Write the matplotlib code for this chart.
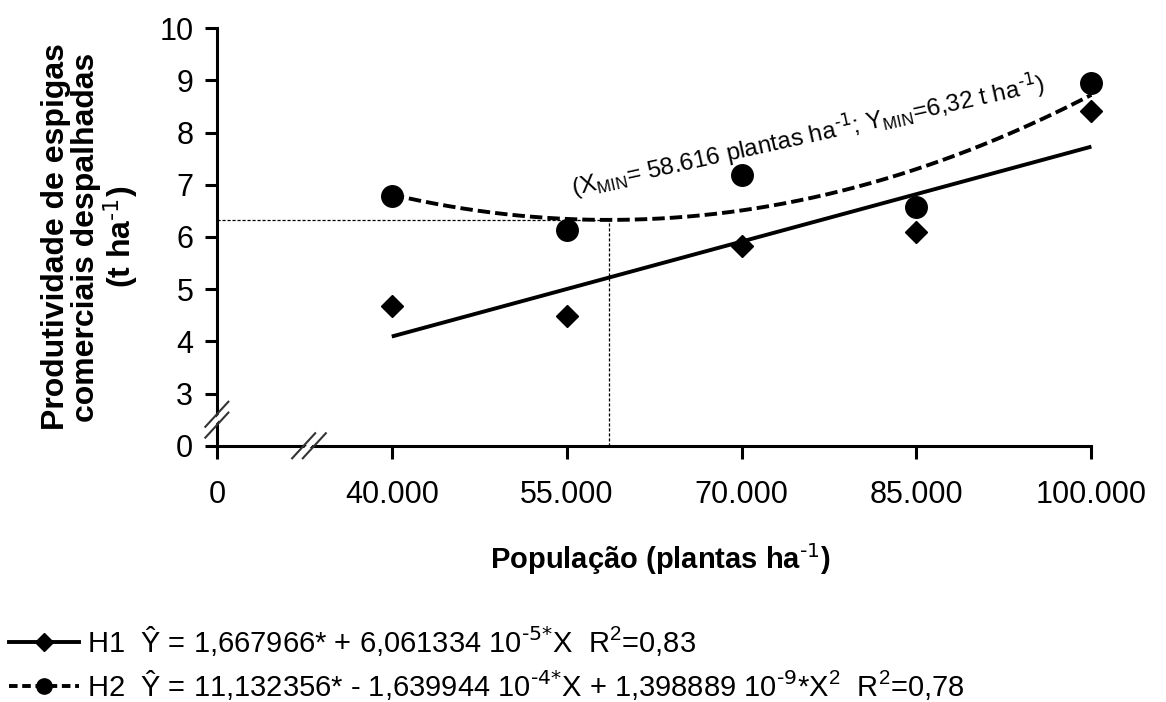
import numpy as np
import matplotlib
matplotlib.use("Agg")
import matplotlib.pyplot as plt
from matplotlib.lines import Line2D

# ---------------- data ----------------
populations = [40000, 55000, 70000, 85000, 100000]
h1_values = [4.68, 4.48, 5.82, 6.10, 8.42]
h2_values = [6.78, 6.14, 7.18, 6.58, 8.95]

# regression coefficients from the legend
h1_coef = [1.667966, 6.061334e-5]
h2_coef = [11.132356, -1.639944e-4, 1.398889e-9]
x_min, y_min = 58616, 6.32

x_tick_pos = [25000, 40000, 55000, 70000, 85000, 100000]
x_tick_labels = ["0", "40.000", "55.000", "70.000", "85.000", "100.000"]
y_tick_pos = [2, 3, 4, 5, 6, 7, 8, 9, 10]
y_tick_labels = ["0", "3", "4", "5", "6", "7", "8", "9", "10"]

FONT = ["Liberation Sans", "DejaVu Sans"]
plt.rcParams["font.family"] = FONT
plt.rcParams["mathtext.default"] = "regular"

fig = plt.figure(figsize=(11.66, 7.02), dpi=100)
ax = fig.add_axes([0.186, 0.365, 0.760, 0.595])

# fitted curves
xf = np.linspace(populations[0], populations[-1], 200)
y1 = h1_coef[0] + h1_coef[1] * xf
y2 = h2_coef[0] + h2_coef[1] * xf + h2_coef[2] * xf ** 2
ax.plot(xf, y1, color="black", lw=2.8, solid_capstyle="butt", zorder=3)
ax.plot(xf, y2, color="black", lw=2.8, dashes=(3.2, 1.3), zorder=3)

# observed points
ax.plot(populations, h1_values, "D", color="black", ms=11, zorder=4)
ax.plot(populations, h2_values, "o", color="black", ms=15.5, zorder=4)

# reference lines for the minimum
ax.plot([25000, x_min], [y_min, y_min], color="black", lw=0.9, dashes=(2.5, 1.5), zorder=2)
ax.plot([x_min, x_min], [2, y_min], color="black", lw=0.9, dashes=(2.5, 1.5), zorder=2)

ax.text(75700, 7.95,
        r"(X$_{MIN}$= 58.616 plantas ha$^{\text{-1}}$; Y$_{MIN}$=6,32 t ha$^{\text{-1}}$)",
        rotation=12.5, ha="center", va="center", fontsize=17.5, rotation_mode="anchor")

# axes styling
ax.set_xlim(25000, 101000)
ax.set_ylim(2, 10)
for s in ["top", "right"]:
    ax.spines[s].set_visible(False)
for s in ["left", "bottom"]:
    ax.spines[s].set_linewidth(2.2)
ax.spines["bottom"].set_bounds(25000, 100000)
ax.set_xticks(x_tick_pos)
ax.set_xticklabels(x_tick_labels)
ax.set_yticks(y_tick_pos)
ax.set_yticklabels(y_tick_labels)
ax.tick_params(axis="both", direction="out", length=9, width=2.2, labelsize=22)
ax.tick_params(axis="x", pad=16)
ax.tick_params(axis="y", pad=8)

ax.set_xlabel(r"População (plantas ha$^{\text{-1}}$)", fontsize=21, fontweight="bold", labelpad=22)
ax.set_ylabel("Produtividade de espigas\ncomerciais despalhadas\n" + r"(t ha$^{\text{-1}}$)",
              fontsize=23, fontweight="bold", labelpad=14, linespacing=1.0)

# axis break marks
def brk(xc, yc, horizontal):
    dx, dy = 0.013, 0.03
    tr = ax.transAxes
    inv = ax.transAxes.inverted()
    ax_x, ax_y = inv.transform(ax.transData.transform((xc, yc)))
    off = 0.006 if horizontal else 0.0
    offy = 0.0 if horizontal else 0.013
    for k in (-1, 1):
        ax.plot([ax_x - dx + k * off, ax_x + dx + k * off],
                [ax_y - dy + k * offy, ax_y + dy + k * offy],
                transform=tr, color="#333333", lw=1.5, clip_on=False, zorder=6)
    ax.plot([ax_x - dx * 0.8, ax_x + dx * 0.8], [ax_y - dy * 0.8, ax_y + dy * 0.8],
            transform=tr, color="white", lw=3.0, clip_on=False, zorder=5)

brk(32900, 2, True)
brk(25000, 2.5, False)

# legend
handles = [
    Line2D([], [], color="black", lw=2.8, marker="D", ms=9),
    Line2D([], [], color="black", lw=2.8, dashes=(2.2, 1.2), marker="o", ms=11),
]
labels = [
    r"H1  Ŷ = 1,667966* + 6,061334 10$^{\text{-5*}}$X  R$^{2}$=0,83",
    r"H2  Ŷ = 11,132356* - 1,639944 10$^{\text{-4*}}$X + 1,398889 10$^{\text{-9}}$*X$^{2}$  R$^{2}$=0,78",
]
fig.legend(handles, labels, loc="upper left", bbox_to_anchor=(-0.002, 0.128),
           frameon=False, fontsize=21, handlelength=2.4, handletextpad=0.25,
           labelspacing=0.35, borderaxespad=0, numpoints=1)

fig.savefig("out.png", dpi=100)
